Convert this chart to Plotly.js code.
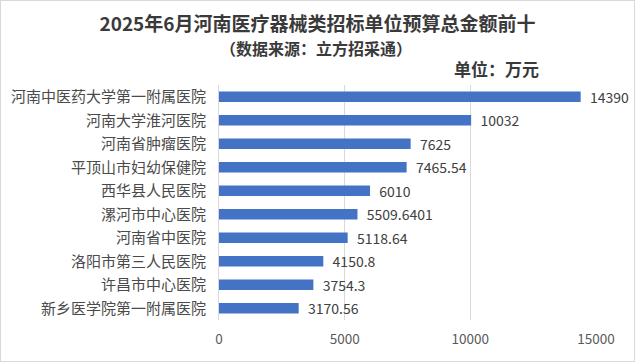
<!DOCTYPE html>
<html><head><meta charset="utf-8">
<script src="https://cdn.plot.ly/plotly-3.0.1.min.js"></script>
<style>html,body{margin:0;padding:0;background:#fff}#c{width:633px;height:360px;border:1px solid #d9d9d9}</style>
</head><body><div id="c"></div>
<script>
const categories = ["河南中医药大学第一附属医院","河南大学淮河医院","河南省肿瘤医院","平顶山市妇幼保健院","西华县人民医院","漯河市中心医院","河南省中医院","洛阳市第三人民医院","许昌市中心医院","新乡医学院第一附属医院"];
const values = [14390, 10032, 7625, 7465.54, 6010, 5509.6401, 5118.64, 4150.8, 3754.3, 3170.56];
const valueLabels = ["14390","10032","7625","7465.54","6010","5509.6401","5118.64","4150.8","3754.3","3170.56"];
const tickVals = [0, 5000, 10000, 15000];
const titleText = "2025年6月河南医疗器械类招标单位预算总金额前十";
const subtitleText = "（数据来源：立方招采通）";
const unitText = "单位：万元";

const font = "'Noto Sans CJK SC', 'Noto Sans', sans-serif";
const L = 218, R = 38, T = 84, B = 41, W = 633, H = 360;
const PW = W - L - R, PH = H - T - B;
Plotly.newPlot('c', [{
  type: 'bar', orientation: 'h',
  x: values, y: categories,
  text: valueLabels.map(s => '\u00a0\u00a0' + s), textposition: 'outside', cliponaxis: false, constraintext: 'none',
  textfont: {family: font, size: 14, color: '#404040'},
  marker: {color: '#4472C4'},
  hoverinfo: 'none'
}], {
  width: W, height: H,
  margin: {l: L, r: R, t: T, b: B},
  paper_bgcolor: '#fff', plot_bgcolor: '#fff',
  bargap: 0.55,
  showlegend: false,
  font: {family: font, color: '#404040'},
  title: {text: '<b>' + titleText + '</b>', xref: 'container', x: 0.5, xanchor: 'center', yref: 'container', y: 1 - 23 / H, yanchor: 'middle', font: {family: font, size: 19, color: '#3a3a3a'}},
  xaxis: {range: [0, 15000], tickvals: tickVals, ticktext: tickVals.map(String), showgrid: true, gridcolor: '#d9d9d9', gridwidth: 1, zeroline: false, showline: false, ticks: '', tickfont: {family: font, size: 13.5, color: '#595959'}, ticklabelstandoff: 9, fixedrange: true},
  yaxis: {autorange: 'reversed', showgrid: false, zeroline: false, showline: true, linecolor: '#d9d9d9', ticks: '', ticklabelstandoff: 9, tickfont: {family: font, size: 15, color: '#4a4a4a'}, fixedrange: true},
  annotations: [
    {text: '<b>' + subtitleText + '</b>', xref: 'paper', yref: 'paper', x: (315 - L) / PW, xanchor: 'center', y: 1 + (T - 47) / PH, yanchor: 'middle', showarrow: false, font: {family: font, size: 16, color: '#3a3a3a'}},
    {text: '<b>' + unitText + '</b>', xref: 'paper', yref: 'paper', x: (495.5 - L) / PW, xanchor: 'center', y: 1 + (T - 67) / PH, yanchor: 'middle', showarrow: false, font: {family: font, size: 17, color: '#3a3a3a'}}
  ]
}, {displayModeBar: false, staticPlot: true});
</script></body></html>
